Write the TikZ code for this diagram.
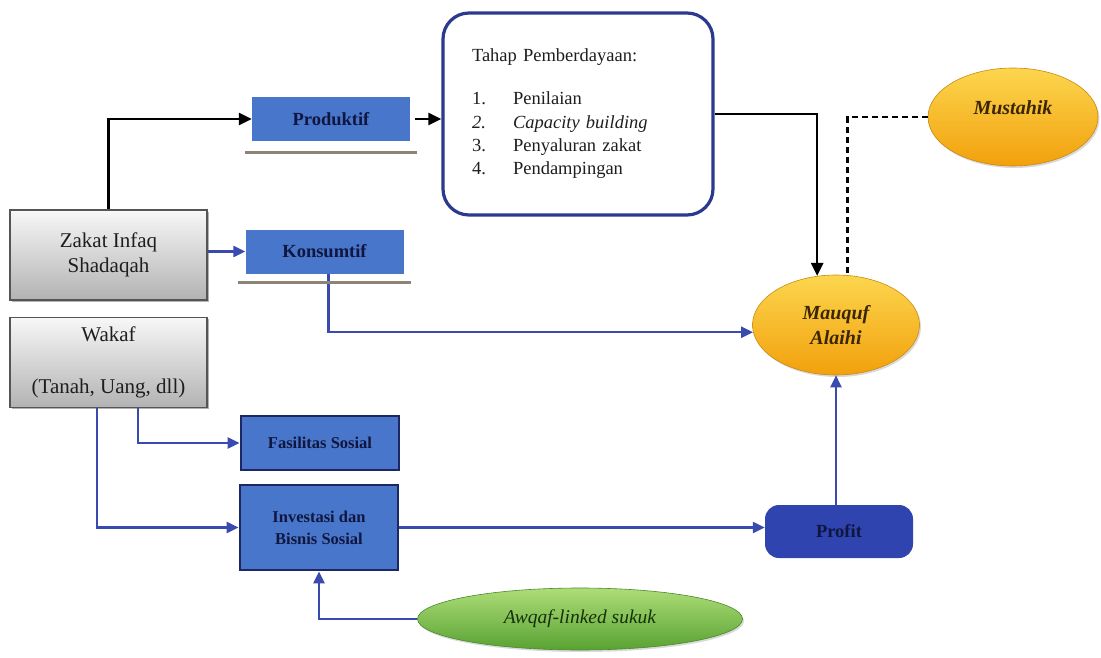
\documentclass[tikz,border=0pt]{standalone}
\usepackage{fontspec}
\setmainfont{Liberation Serif}
\usetikzlibrary{arrows.meta,positioning,shapes.geometric,shadows}
\definecolor{zink}{HTML}{1E1E1E}
\definecolor{zgray}{HTML}{555555}
\definecolor{zblue}{HTML}{4876CA}
\definecolor{znavy}{HTML}{1C2763}
\definecolor{zframe}{HTML}{2B3A8E}
\definecolor{zline}{HTML}{3A4BB0}
\definecolor{zprofit}{HTML}{2F44AE}
\definecolor{ztext}{HTML}{10163F}
\definecolor{zshelf}{HTML}{8C8474}
\definecolor{goldtop}{HTML}{FCD64E}
\definecolor{goldbot}{HTML}{F2A00C}
\definecolor{goldedge}{HTML}{C98A12}
\definecolor{goldink}{HTML}{3A2600}
\definecolor{greentop}{HTML}{AEDD78}
\definecolor{greenbot}{HTML}{58A232}
\definecolor{greenedge}{HTML}{4A8A2A}
\definecolor{greenink}{HTML}{16300A}

\begin{document}
\begin{tikzpicture}[x=1pt, y=-1pt,
  source/.style={
    draw=zgray,
    line width=1.4pt,
    top color=gray!6,
    bottom color=gray!60,
    minimum width=197pt,
    minimum height=90pt,
    inner sep=2pt,
    align=center,
    text=zink,
    font=\fontsize{21}{25}\selectfont,
    drop shadow={shadow xshift=2pt, shadow yshift=-2pt, opacity=0.6}
  },
  channel/.style={
    fill=zblue,
    minimum width=158pt,
    minimum height=44pt,
    inner sep=2pt,
    text=ztext,
    font=\fontsize{18.5}{22}\selectfont\bfseries
  },
  usage/.style={
    fill=zblue,
    draw=znavy,
    line width=2.8pt,
    minimum width=158pt,
    inner sep=2pt,
    align=center,
    text=ztext,
    font=\fontsize{16.5}{22}\selectfont\bfseries
  },
  stages/.style={
    draw=zframe,
    fill=white,
    line width=3.2pt,
    rounded corners=26pt,
    minimum width=270pt,
    minimum height=202pt,
    text width=212pt,
    inner sep=0pt,
    align=left,
    text=zink,
    font=\fontsize{18.5}{23.3}\selectfont
  },
  gold/.style={
    ellipse,
    draw=goldedge,
    line width=0.6pt,
    top color=goldtop,
    bottom color=goldbot,
    inner sep=0pt,
    align=center,
    text=goldink,
    font=\fontsize{20}{25}\selectfont\bfseries\itshape,
    drop shadow={shadow xshift=1.5pt, shadow yshift=-2pt, opacity=0.3}
  },
  sukuk/.style={
    ellipse,
    draw=greenedge,
    line width=0.6pt,
    top color=greentop,
    bottom color=greenbot,
    minimum width=325pt,
    minimum height=62pt,
    inner sep=0pt,
    text=greenink,
    font=\fontsize{19.5}{23}\selectfont\itshape,
    drop shadow={shadow xshift=1.5pt, shadow yshift=-2pt, opacity=0.3}
  },
  gain/.style={
    fill=zprofit,
    rounded corners=14pt,
    minimum width=148pt,
    minimum height=53pt,
    inner sep=2pt,
    text=ztext,
    font=\fontsize{18.5}{22}\selectfont\bfseries
  },
  shelf/.style={draw=zshelf, line width=2.8pt},
  flow/.style={-{Triangle[length=12pt,width=11pt]}, draw=zline, line width=2.3pt},
  dark flow/.style={-{Triangle[length=13pt,width=12pt]}, draw=black, line width=2.5pt},
  link/.style={draw=black, dashed, dash pattern=on 6pt off 4pt, line width=2.2pt}
]
\useasboundingbox (0,0) rectangle (1101,658);

\node[source] (zakat) at (108.5,255) {Zakat Infaq\\Shadaqah};
\node[source, below=16pt of zakat] (wakaf) {Wakaf\\[27pt](Tanah, Uang, dll)};

\node[channel] (produktif) at (331,119) {Produktif};
\draw[shelf] ([xshift=-7pt,yshift=-11pt]produktif.south west) -- ([xshift=7pt,yshift=-11pt]produktif.south east);
\node[channel] (konsumtif) at (324.5,251.5) {Konsumtif};

\node[stages] (tahap) at (578,114) {
  Tahap Pemberdayaan:\\[19.7pt]
  \makebox[41pt][l]{1.}Penilaian\\
  \makebox[41pt][l]{\itshape 2.}\textit{Capacity building}\\
  \makebox[41pt][l]{3.}Penyaluran zakat\\
  \makebox[41pt][l]{4.}Pendampingan
};

\node[gold, minimum width=170pt, minimum height=98pt] (mustahik) at (1013,117) {Mustahik\\[-6pt]\mbox{}};
\node[gold, minimum width=167pt, minimum height=100pt] (mauquf) at (836,325) {Mauquf\\Alaihi};

\node[usage, minimum height=54pt] (fasilitas) at (320,443) {Fasilitas Sosial};
\node[usage, minimum height=85pt] (investasi) at (319,527.5) {Investasi dan\\Bisnis Sosial};

\node[gain] (profit) at (839,531.5) {Profit};
\node[sukuk] (awqaf) at (580,619) {Awqaf-linked sukuk};

\draw[dark flow] (zakat.north) |- (produktif.west);
\draw[dark flow, shorten <=5pt] (produktif.east) -- (produktif.east -| tahap.west);
\draw[dark flow] (tahap.east) -| (mauquf.111);
\draw[link] (mustahik.west) -| (mauquf.77);

\draw[flow] (konsumtif.west -| zakat.east) -- (konsumtif.west);
\draw[flow] ([xshift=4pt]konsumtif.south) |- (mauquf.185);
\draw[shelf] ([xshift=-7pt,yshift=-9pt]konsumtif.south west) -- ([xshift=7pt,yshift=-9pt]konsumtif.south east);

\draw[flow] ([xshift=29.5pt]wakaf.south) |- (fasilitas.west);
\draw[flow] ([xshift=-11.5pt]wakaf.south) |- (investasi.west);
\draw[flow] (investasi.east) -- (investasi.east -| profit.west);
\draw[flow] (mauquf.south |- profit.north) -- (mauquf.south);
\draw[flow] (awqaf.west) -| (investasi.south);

\end{tikzpicture}
\end{document}
